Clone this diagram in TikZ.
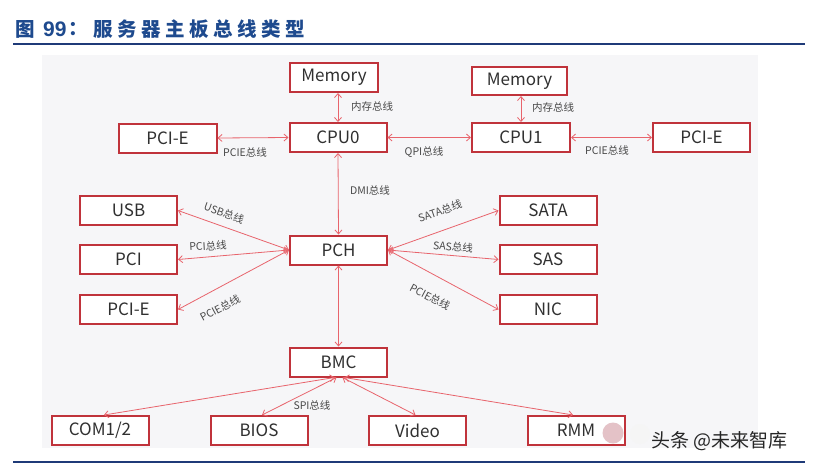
\documentclass[tikz,border=0pt]{standalone}
\usepackage{fontspec}
\setmainfont{Noto Sans CJK SC}
\newfontfamily\cjk{Noto Sans CJK SC}
\newfontfamily\latb{Liberation Sans}
\usetikzlibrary{arrows.meta}
\definecolor{boxred}{HTML}{C0333B}
\definecolor{arrred}{HTML}{E8646C}
\definecolor{txtgray}{HTML}{303030}
\definecolor{lblgray}{HTML}{484848}
\definecolor{titleblue}{HTML}{1E4A8E}
\definecolor{rulblue}{HTML}{1F3A78}
\definecolor{panel}{HTML}{F6F6F8}
\definecolor{pinkdot}{HTML}{E4C2C7}
\begin{document}
\begin{tikzpicture}[x=1pt,y=-1pt,
 box/.style={draw=boxred, line width=2pt, fill=white, minimum width=97pt, minimum height=29pt, inner sep=0pt, text=txtgray, font=\cjk\fontsize{17}{17}\selectfont},
 bus/.style={draw=arrred, line width=0.8pt, {Straight Barb[length=4pt,width=7pt]}-{Straight Barb[length=4pt,width=7pt]}},
 lbl/.style={text=lblgray, font=\cjk\fontsize{10.5}{10.5}\selectfont, inner sep=0pt},
 ttl/.style={anchor=west, inner sep=0pt, text=titleblue, font=\cjk\bfseries\fontsize{19.5}{19.5}\selectfont}]
\useasboundingbox (0,0) rectangle (815,467);
\fill[white] (0,0) rectangle (815,467);
% panel
\fill[panel] (42,55) rectangle (758,448);
% title
\node[ttl] (t0) at (15,29) {图};
\node[ttl, font=\latb\bfseries\fontsize{21}{21}\selectfont] (t1) at (43,29) {99};
\node[ttl] (t2) at (68,29) {：};
\foreach \c [count=\i] in {服,务,器,主,板,总,线,类,型}
  \node[ttl] (tc\i) at (93+24*\i-24,29) {\c};
\draw[rulblue, line width=2pt] (13,44) -- (805,44);
\draw[rulblue, line width=2pt] (13,462) -- (805,462);
% boxes
\node[box, minimum width=88pt] (Mem0) at (334,77.5) {Memory};
\node[box] (CPU0) at (338,137.5) {CPU0};
\node[box, minimum width=95pt, minimum height=28pt] (Mem1) at (519.5,81) {Memory};
\node[box, minimum width=98pt] (CPU1) at (521,137.5) {CPU1};
\node[box, minimum width=98pt] (PCIEL) at (167.5,138) {PCI-E};
\node[box] (PCIER) at (701.5,137.5) {PCI-E};
\node[box] (USB) at (128.5,210.5) {USB};
\node[box] (PCI) at (128.5,259.5) {PCI};
\node[box] (PCIE2) at (128.5,309.5) {PCI-E};
\node[box] (PCH) at (338.5,250) {PCH};
\node[box] (SATA) at (548,210.5) {SATA};
\node[box] (SAS) at (548,259.5) {SAS};
\node[box] (NIC) at (548,309.5) {NIC};
\node[box] (BMC) at (338.5,362) {BMC};
\node[box] (COM) at (100,430.5) {COM1/2};
\node[box] (BIOS) at (259,430.5) {BIOS};
\node[box] (Video) at (417.5,430.5) {Video};
\node[box] (RMM) at (576,430.5) {RMM};
% connectors
\draw[bus] (Mem0.south -| CPU0.north) -- (CPU0.north);
\draw[bus] (Mem1.south -| CPU1.north) -- (CPU1.north);
\draw[bus] (PCIEL.east) -- (CPU0.west);
\draw[bus] (CPU0.east) -- (CPU1.west);
\draw[bus] (CPU1.east) -- (PCIER.west);
\draw[bus] (CPU0.south) -- (PCH.north);
\draw[bus] (PCH.west) -- (USB.east);
\draw[bus] (PCH.west) -- (PCI.east);
\draw[bus] (PCH.west) -- (PCIE2.east);
\draw[bus] (PCH.east) -- (SATA.west);
\draw[bus] (PCH.east) -- (SAS.west);
\draw[bus] (PCH.east) -- (NIC.west);
\draw[bus] (PCH.south) -- (BMC.north);
\draw[bus] ([xshift=-4pt]BMC.south) -- ([xshift=4pt]COM.north);
\draw[bus] ([xshift=-2pt]BMC.south) -- ([xshift=3pt]BIOS.north);
\draw[bus] ([xshift=4pt]BMC.south) -- ([xshift=-2pt]Video.north);
\draw[bus] ([xshift=6pt]BMC.south) -- ([xshift=-3pt]RMM.north);
% labels
\node[lbl] (l1) at (372,107) {内存总线};
\node[lbl] (l2) at (553,108) {内存总线};
\node[lbl] (l3) at (245,152) {PCIE总线};
\node[lbl] (l4) at (424,152) {QPI总线};
\node[lbl] (l5) at (607,150) {PCIE总线};
\node[lbl] (l6) at (370,190) {DMI总线};
\node[lbl, rotate=-20] (l7) at (224,213) {USB总线};
\node[lbl, rotate=3] (l8) at (208,246) {PCI总线};
\node[lbl, rotate=28] (l9) at (220,308) {PCIE总线};
\node[lbl, rotate=19] (l10) at (440,211) {SATA总线};
\node[lbl, rotate=-5] (l11) at (453,247) {SAS总线};
\node[lbl, rotate=-28] (l12) at (430,297) {PCIE总线};
\node[lbl] (l13) at (312,405) {SPI总线};
% watermark
\fill[gray!8] (640,434) circle (10);
\fill[pinkdot] (613,433) circle (10.5);
\node[anchor=west, inner sep=0pt, text=black!85, font=\cjk\fontsize{19}{19}\selectfont] (wm) at (651,441) {头条 @未来智库};
\end{tikzpicture}
\end{document}
